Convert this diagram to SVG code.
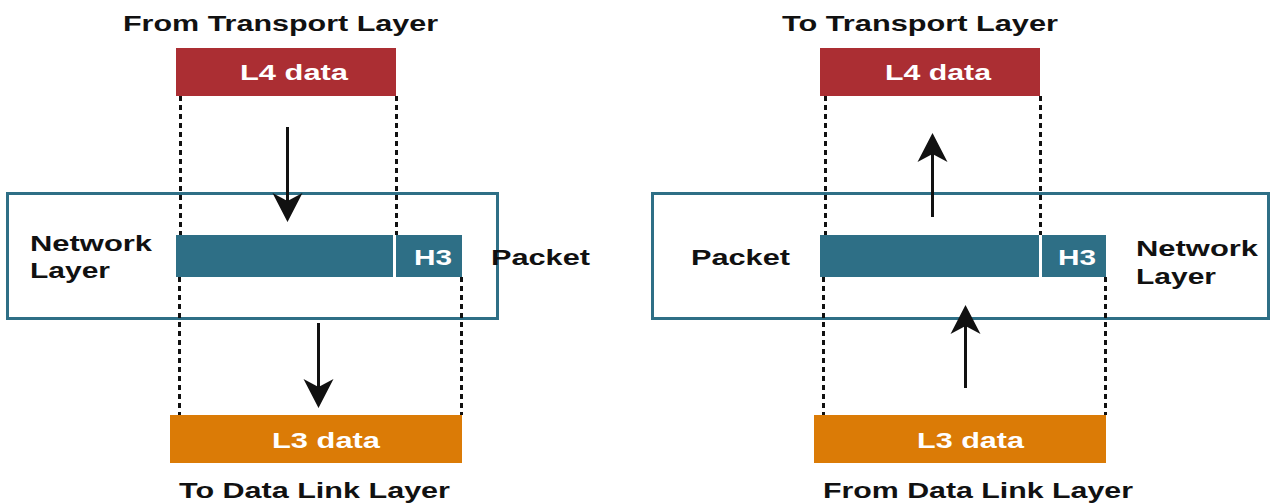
<svg xmlns="http://www.w3.org/2000/svg" width="1276" height="503" viewBox="0 0 1276 503">
<style>
.t{font-family:"Liberation Sans",Arial,sans-serif;font-weight:bold;font-size:22px;fill:#111}
.w{font-family:"Liberation Sans",Arial,sans-serif;font-weight:bold;font-size:22px;fill:#fff}
.dot{stroke:#111;stroke-width:3;stroke-dasharray:5 4;fill:none}
.ln{stroke:#111;stroke-width:3;fill:none}
.box{fill:#fff;stroke:#2e6f86;stroke-width:3}
.red{fill:#ab2e33}
.teal{fill:#2e6f86}
.org{fill:#db7b06}
.div{stroke:#fff;stroke-width:3}
</style>
<defs>
<path id="ahd" d="M0,0 L-15,-29 L0,-21 L15,-29 Z" fill="#111"/>
</defs>
<rect width="1276" height="503" fill="#fff"/>

<g id="left-network-layer">
<rect class="box" x="7.5" y="193.5" width="490" height="125"/>
<text class="t" x="30" y="251" textLength="122" lengthAdjust="spacingAndGlyphs">Network</text>
<text class="t" x="30" y="278" textLength="80" lengthAdjust="spacingAndGlyphs">Layer</text>
<text class="t" x="491" y="265" textLength="99" lengthAdjust="spacingAndGlyphs">Packet</text>
</g>
<g id="right-network-layer">
<rect class="box" x="652.5" y="193.5" width="616" height="125"/>
<text class="t" x="1136" y="256" textLength="122" lengthAdjust="spacingAndGlyphs">Network</text>
<text class="t" x="1136" y="284" textLength="80" lengthAdjust="spacingAndGlyphs">Layer</text>
<text class="t" x="691" y="265" textLength="99" lengthAdjust="spacingAndGlyphs">Packet</text>
</g>

<g id="connectors">
<line class="dot" x1="180.5" y1="96" x2="180.5" y2="235"/>
<line class="dot" x1="396.5" y1="96" x2="396.5" y2="235"/>
<line class="dot" x1="179.5" y1="277" x2="179.5" y2="415"/>
<line class="dot" x1="461.5" y1="277" x2="461.5" y2="415"/>
<line class="dot" x1="825.5" y1="96" x2="825.5" y2="235"/>
<line class="dot" x1="1040.5" y1="96" x2="1040.5" y2="235"/>
<line class="dot" x1="823.5" y1="277" x2="823.5" y2="415"/>
<line class="dot" x1="1105.5" y1="277" x2="1105.5" y2="415"/>
<line class="ln" x1="287.5" y1="127" x2="287.5" y2="206"/>
<use href="#ahd" transform="translate(287.5,222)"/>
<line class="ln" x1="318.5" y1="323" x2="318.5" y2="392"/>
<use href="#ahd" transform="translate(318.5,408)"/>
<line class="ln" x1="932.5" y1="217" x2="932.5" y2="149"/>
<use href="#ahd" transform="translate(932.5,133) rotate(180)"/>
<line class="ln" x1="965.5" y1="388" x2="965.5" y2="321"/>
<use href="#ahd" transform="translate(965.5,305) rotate(180)"/>
</g>

<g id="left-title-top"><text class="t" x="123" y="31" textLength="315" lengthAdjust="spacingAndGlyphs">From Transport Layer</text></g>
<g id="left-l4">
<rect class="red" x="176" y="48" width="220" height="48"/>
<text class="w" x="240" y="80" textLength="108" lengthAdjust="spacingAndGlyphs">L4 data</text>
</g>
<g id="left-packet">
<rect class="teal" x="176" y="235" width="286" height="42"/>
<line class="div" x1="394.5" y1="235" x2="394.5" y2="277"/>
<text class="w" x="414" y="265" textLength="38" lengthAdjust="spacingAndGlyphs">H3</text>
</g>
<g id="left-l3">
<rect class="org" x="170" y="415" width="292" height="48"/>
<text class="w" x="272" y="448" textLength="108" lengthAdjust="spacingAndGlyphs">L3 data</text>
</g>
<g id="left-title-bottom"><text class="t" x="179" y="498" textLength="271" lengthAdjust="spacingAndGlyphs">To Data Link Layer</text></g>

<g id="right-title-top"><text class="t" x="782" y="31" textLength="276" lengthAdjust="spacingAndGlyphs">To Transport Layer</text></g>
<g id="right-l4">
<rect class="red" x="820" y="48" width="220" height="48"/>
<text class="w" x="885" y="80" textLength="106" lengthAdjust="spacingAndGlyphs">L4 data</text>
</g>
<g id="right-packet">
<rect class="teal" x="820" y="235" width="286" height="42"/>
<line class="div" x1="1040.5" y1="235" x2="1040.5" y2="277"/>
<text class="w" x="1058" y="265" textLength="38" lengthAdjust="spacingAndGlyphs">H3</text>
</g>
<g id="right-l3">
<rect class="org" x="814" y="415" width="292" height="48"/>
<text class="w" x="917" y="448" textLength="107" lengthAdjust="spacingAndGlyphs">L3 data</text>
</g>
<g id="right-title-bottom"><text class="t" x="823" y="498" textLength="310" lengthAdjust="spacingAndGlyphs">From Data Link Layer</text></g>
</svg>
